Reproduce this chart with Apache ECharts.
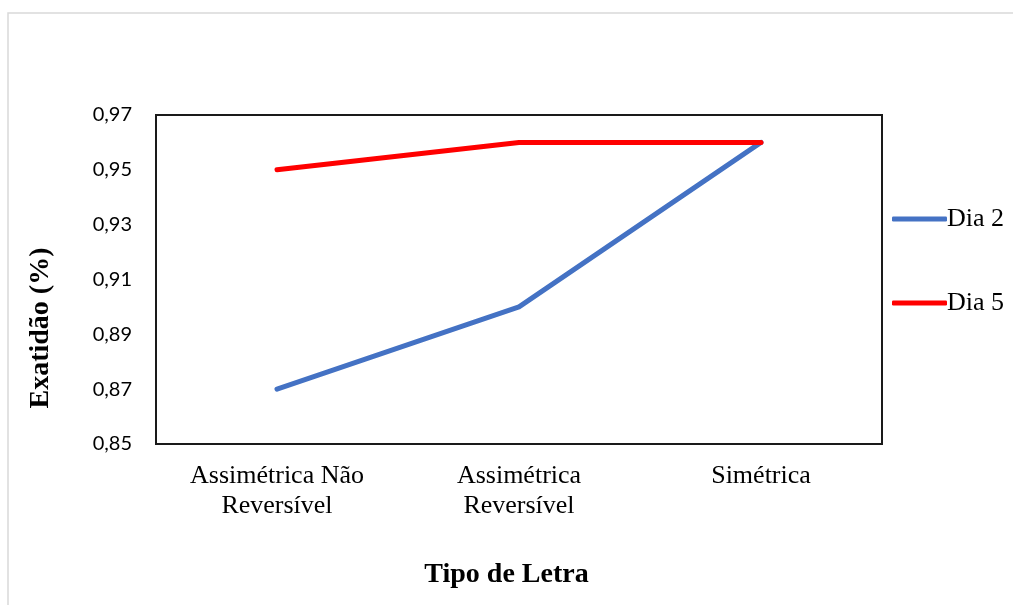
<!DOCTYPE html>
<html>
<head>
<meta charset="utf-8">
<script src="https://cdn.jsdelivr.net/npm/echarts@6/dist/echarts.min.js"></script>
<style>
  html, body { margin: 0; padding: 0; background: #fff; }
  #chart { width: 1013px; height: 605px; }
</style>
</head>
<body>
<div id="chart"></div>
<script>
// dados do gráfico
const categorias = ['Assimétrica Não\nReversível', 'Assimétrica\nReversível', 'Simétrica'];
const dia2 = [0.87, 0.90, 0.96];
const dia5 = [0.95, 0.96, 0.96];
const nomesSeries = ['Dia 2', 'Dia 5'];
const coresSeries = ['#4472C4', '#FF0000'];

const serif = '"Liberation Serif", "Times New Roman", serif';

const chart = echarts.init(document.getElementById('chart'));

const option = {
  backgroundColor: '#fff',
  animation: false,
  graphic: [
    {
      // moldura cinza clara do gráfico
      type: 'rect',
      shape: { x: 8, y: 13, width: 1100, height: 700 },
      style: { fill: 'none', stroke: '#d9d9d9', lineWidth: 1.5 },
      silent: true
    },
    {
      type: 'text',
      left: 'center',
      top: 561,
      style: { text: 'Tipo de Letra', font: 'bold 28px ' + serif, fill: '#000' }
    },
    {
      type: 'text',
      x: 41,
      y: 328,
      rotation: Math.PI / 2,
      style: {
        text: 'Exatidão (%)',
        font: 'bold 28px ' + serif,
        fill: '#000',
        align: 'center',
        verticalAlign: 'middle'
      }
    }
  ],
  grid: {
    left: 156,
    top: 115,
    width: 726,
    height: 329,
    show: true,
    borderColor: '#1a1a1a',
    borderWidth: 2,
    backgroundColor: 'transparent'
  },
  legend: {
    orient: 'vertical',
    left: 887,
    top: 201,
    icon: 'roundRect',
    itemWidth: 55,
    itemHeight: 5,
    itemGap: 58,
    data: nomesSeries,
    textStyle: { fontFamily: serif, fontSize: 26, color: '#000', lineHeight: 26, padding: [0, 0, 0, -5] }
  },
  xAxis: {
    type: 'category',
    data: categorias,
    boundaryGap: true,
    axisLine: { show: false },
    axisTick: { show: false },
    axisLabel: {
      interval: 0,
      margin: 17,
      fontFamily: serif,
      fontSize: 26,
      lineHeight: 30,
      color: '#000'
    }
  },
  yAxis: {
    type: 'value',
    min: 0.85,
    max: 0.97,
    interval: 0.02,
    splitLine: { show: false },
    axisLine: { show: false },
    axisTick: { show: false },
    axisLabel: {
      margin: 24,
      fontFamily: 'Lato, "Open Sans", sans-serif',
      fontSize: 20,
      color: '#000',
      formatter: v => v.toFixed(2).replace('.', ',')
    }
  },
  series: [
    {
      name: nomesSeries[0],
      type: 'line',
      data: dia2,
      symbol: 'none',
      color: coresSeries[0],
      lineStyle: { width: 5, color: coresSeries[0], cap: 'round', join: 'round' }
    },
    {
      name: nomesSeries[1],
      type: 'line',
      data: dia5,
      symbol: 'none',
      color: coresSeries[1],
      lineStyle: { width: 5, color: coresSeries[1], cap: 'round', join: 'round' }
    }
  ]
};

chart.setOption(option);
</script>
</body>
</html>
